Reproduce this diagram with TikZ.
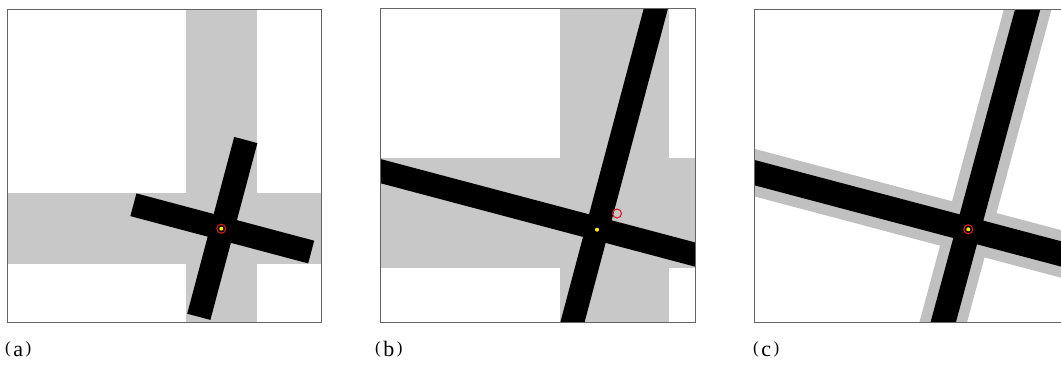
\documentclass[tikz,border=0pt]{standalone}
\usepackage{fontspec}
\setmainfont{Liberation Serif}
\newcommand{\plab}[1]{\raisebox{2.5pt}{\scalebox{1.7}{(}}\hspace{2.5pt}\scalebox{2.2}{#1}\hspace{2.5pt}\raisebox{2.5pt}{\scalebox{1.7}{)}}}
\definecolor{bandgray}{RGB}{200,200,200}
\definecolor{cgray}{RGB}{192,192,192}
\definecolor{framegray}{RGB}{100,100,100}
\definecolor{ringred}{RGB}{220,30,30}
\tikzset{
  frame/.style={draw=framegray, line width=1pt},
  band/.style={fill=bandgray},
  bar/.style={draw=black, line width=24pt, line cap=butt},
  halo/.style={draw=cgray, line width=46pt, line cap=butt},
  ring/.style={draw=ringred, line width=1.1pt},
  dotyel/.style={fill=yellow},
  lab/.style={anchor=base west, inner sep=0pt}
}
\begin{document}
\begin{tikzpicture}[x=1pt,y=-1pt]
\useasboundingbox (0,0) rectangle (1061,365);
% ---------- panel (a) ----------
\coordinate (a1) at (7,9);
\coordinate (a2) at (321,322);
\fill[white] (a1) rectangle (a2);
\fill[band] (186,9) rectangle (257,322);
\fill[band] (7,193) rectangle (321,264);
\coordinate (ah1) at (133.4,204.75);
\coordinate (ah2) at (311.2,252.05);
\coordinate (av1) at (245.8,140.0);
\coordinate (av2) at (198.8,316.8);
\draw[bar, line width=23.5pt] (ah1) -- (ah2);
\draw[bar] (av1) -- (av2);
\coordinate (ac) at (221.3,228.7);
\draw[ring] (ac) circle[radius=4.5pt];
\fill[dotyel] (ac) circle[radius=2pt];
\draw[frame] (a1) rectangle (a2);
\node[lab] (la) at (5,356) {\plab{a}};
% ---------- panel (b) ----------
\coordinate (b1) at (380,8);
\coordinate (b2) at (695,322);
\fill[white] (b1) rectangle (b2);
\begin{scope}
\clip (b1) rectangle (b2);
\fill[band] (560,8) rectangle (669,322);
\fill[band] (380,158) rectangle (695,268);
\coordinate (bh1) at (360,165.7);
\coordinate (bh2) at (715,259.8);
\coordinate (bv1) at (661.3,-12);
\coordinate (bv2) at (567.2,342);
\draw[bar, line width=23.4pt] (bh1) -- (bh2);
\draw[bar, line width=23.4pt] (bv1) -- (bv2);
\end{scope}
\coordinate (by) at (597,229.7);
\coordinate (br) at (617,213.5);
\fill[dotyel] (by) circle[radius=2pt];
\draw[ring] (br) circle[radius=4.5pt];
\draw[frame] (b1) rectangle (b2);
\node[lab] (lb) at (375,356) {\plab{b}};
% ---------- panel (c) ----------
\coordinate (c1) at (754,9);
\coordinate (c2) at (1062,322);
\fill[white] (c1) rectangle (c2);
\begin{scope}
\clip (c1) rectangle (c2);
\coordinate (ch1) at (734,167.2);
\coordinate (ch2) at (1081,259.2);
\coordinate (cv1) at (1032.9,-10);
\coordinate (cv2) at (937.9,342);
\draw[halo] (ch1) -- (ch2);
\draw[halo] (cv1) -- (cv2);
\draw[bar, line width=24.5pt] (ch1) -- (ch2);
\draw[bar, line width=24.5pt] (cv1) -- (cv2);
\end{scope}
\coordinate (cc) at (968.3,229.3);
\draw[ring] (cc) circle[radius=4.5pt];
\fill[dotyel] (cc) circle[radius=2pt];
\draw[frame] (1062,9) -- (c1) -- (754,322) -- (1062,322);
\node[lab] (lc) at (753,356) {\plab{c}};
\end{tikzpicture}
\end{document}
